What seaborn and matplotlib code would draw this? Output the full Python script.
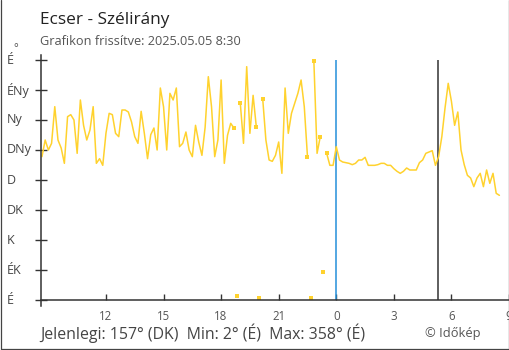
import numpy as np
import pandas as pd
import matplotlib
matplotlib.use("Agg")
import matplotlib.pyplot as plt
from matplotlib import transforms
from matplotlib.lines import Line2D
import seaborn as sns

# ---------------- data ----------------
start_time = "2025-05-04 08:40"
step_minutes = 10
wind_dir = [
    215, 240, 225, 235, 290, 240, 228, 205, 275, 278, 270, 220, 300, 262, 240, 255, 290, 205,
    212, 202, 250, 280, 278, 250, 245, 285, 285,
    282, 267, 245, 235, 283, 250, 212, 248, 258, 225, 318, 290, 225, 310, 300, 318, 230,
    235, 252, 225, 215, 262, 237, 217, 259, 335, 290, 215,
    240, 330, 205, 247, 265, 258, 6, 295, 235, 350, 250, 307, 260, 3, 302, 240, 210, 208,
    217, 237, 190, 318, 250, 280, 295, 310, 330,
    290, 215, 3, 358, 220, 245, 42, 220,
    202, 202, 230, 210, 207, 206, 205, 203, 205, 210,
    210, 214, 202, 202, 202, 203, 205, 205, 202, 202,
    197, 193, 190, 193, 198, 195, 195, 195, 206, 210,
    220, 222, 224, 202, 215, 245, 288, 325, 298, 262,
    282, 225, 203, 187, 183, 170, 183, 190, 170, 195,
    175, 190, 160, 157,
]
midnight_hour = 24
sunrise_hour = 29 + 19 / 60          # 5:19 next day
direction_degrees = [0, 45, 90, 135, 180, 225, 270, 315, 360]
direction_labels = ["É", "ÉK", "K", "DK", "D", "DNy", "Ny", "ÉNy", "É"]
hour_ticks = [12, 15, 18, 21, 24, 27, 30, 33]
hour_tick_labels = ["12", "15", "18", "21", "0", "3", "6", "9"]
title_text = "Ecser - Szélirány"
subtitle_text = "Grafikon frissítve: 2025.05.05 8:30"
footer_text = "Jelenlegi: 157° (DK)  Min: 2° (É)  Max: 358° (É)"
credit_text = "© Időkép"

# ---------------- prepare ----------------
times = pd.date_range(start_time, periods=len(wind_dir), freq=f"{step_minutes}min")
base = pd.Timestamp("2025-05-04 00:00")
hours = (times - base) / pd.Timedelta(hours=1)
deg = np.array(wind_dir, dtype=float)
brk = np.zeros(len(deg), dtype=bool)
brk[1:] = np.abs(np.diff(deg)) > 150
seg = np.cumsum(brk)
df = pd.DataFrame({"t": hours, "deg": deg, "seg": seg})
mark = brk.copy()
mark[:-1] |= brk[1:]
marks = df[mark]

# ---------------- figure ----------------
sns.set_style("white")
plt.rcParams["font.family"] = ["Open Sans", "DejaVu Sans"]

W, H = 510, 350
fig = plt.figure(figsize=(W / 100, H / 100), dpi=100)
fig.patch.set_facecolor("white")

def fx(px):
    return px / W

def fy(py):
    return 1 - py / H

ax_left, ax_right, ax_top, ax_bot = 40.7, 509.0, 55.0, 300.0
ax = fig.add_axes([fx(ax_left), fy(ax_bot), (ax_right - ax_left) / W, (ax_bot - ax_top) / H])
ax.set_facecolor("white")

line_color = "#FFD22E"
sns.lineplot(data=df, x="t", y="deg", units="seg", estimator=None, color=line_color,
             linewidth=1.1, legend=False, ax=ax)
sns.scatterplot(data=marks, x="t", y="deg", marker="s", s=7, color=line_color,
                linewidth=0, legend=False, ax=ax)

ax.vlines(midnight_hour, 0, 360, color="#2590DA", linewidth=1.1, zorder=1)
ax.vlines(sunrise_hour, 0, 360, color="#333333", linewidth=1.1, zorder=1)

ax.set_xlim(8.6, 33)
ax.set_ylim(0, 367.5)
ax.set_xlabel("")
ax.set_ylabel("")

for s in ["top", "right"]:
    ax.spines[s].set_visible(False)
for s in ["left", "bottom"]:
    ax.spines[s].set_color("#333333")
    ax.spines[s].set_linewidth(1.1)
ax.spines["left"].set_bounds(-9, 367.5)

ax.set_xticks(hour_ticks)
ax.set_xticklabels(hour_tick_labels)
ax.tick_params(axis="x", bottom=True, direction="in", length=4.5, width=1, color="#333333",
               labelsize=8.3, labelcolor="#555555", pad=7)
ax.set_yticks(direction_degrees)
ax.set_yticklabels([""] * len(direction_degrees))
ax.tick_params(axis="y", left=True, direction="inout", length=9, width=1, color="#333333")

trans = transforms.blended_transform_factory(fig.transFigure, ax.transData)
for d, lab in zip(direction_degrees, direction_labels):
    ax.text(fx(6.5), d, lab, transform=trans, ha="left", va="center",
            fontsize=9, color="#444444", clip_on=False)
fig.text(fx(13.5), fy(49), "°", ha="left", va="center", fontsize=8, color="#444444")

fig.text(fx(40.5), fy(24), title_text, ha="left", va="baseline", fontsize=12.4, color="#222222")
fig.text(fx(40.5), fy(45), subtitle_text, ha="left", va="baseline", fontsize=9.2, color="#555555")
fig.text(fx(40.5), fy(339), footer_text, ha="left", va="baseline", fontsize=11.4, color="#444444")
fig.text(fx(425), fy(336.7), credit_text, ha="left", va="baseline", fontsize=9.3, color="#555555")

# outer frame (left, right, bottom)
for xs, ys in [([fx(0.5), fx(0.5)], [fy(0), fy(348.5)]),
               ([fx(509.4), fx(509.4)], [fy(0), fy(348.5)]),
               ([fx(0.5), fx(509.4)], [fy(348.5), fy(348.5)])]:
    fig.add_artist(Line2D(xs, ys, transform=fig.transFigure, color="#444444", linewidth=0.9))

fig.savefig("out.png", dpi=100, facecolor="white")
